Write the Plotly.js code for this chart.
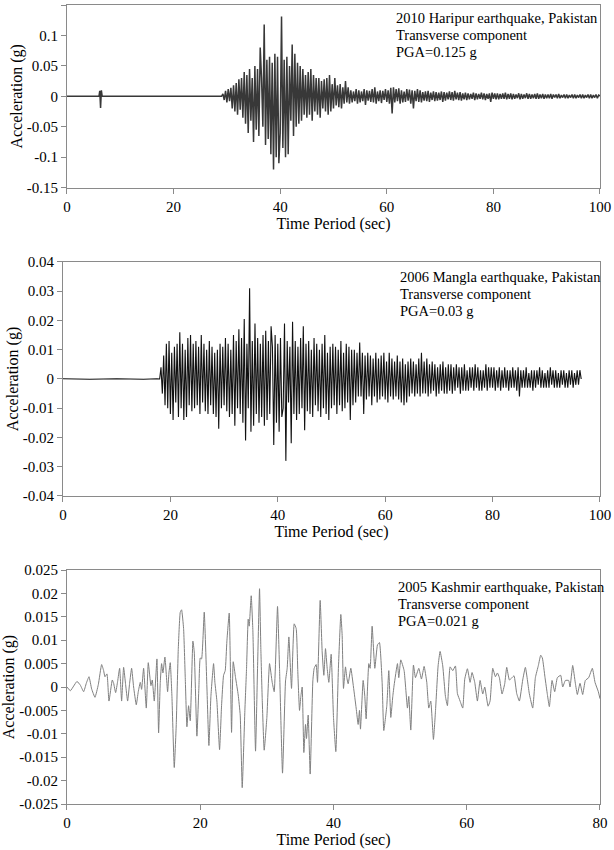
<!DOCTYPE html>
<html>
<head>
<meta charset="utf-8">
<script src="https://cdn.plot.ly/plotly-3.0.1.min.js"></script>
<style>
body { margin: 0; background: #fff; }
#graph { width: 614px; height: 850px; }
</style>
</head>
<body>
<div id="graph"></div>
<script>
// 2010 Haripur: quiet lead-in, then record sampled every 0.25 s from 29 s
var haripurLeadT = [0, 6.0, 6.15, 6.3, 6.45, 6.6, 29];
var haripurLeadA = [0, 0, 0.009, -0.019, 0.01, 0, 0];
var haripurStart = 29;
var haripurStep = 0.25;
var haripurAcc = [
	0, 0.004, -0.006, 0.009, -0.01, 0.012, -0.008, 0.014,
	-0.02, 0.018, -0.025, 0.022, -0.03, 0.028, -0.022, 0.03,
	-0.035, 0.04, -0.045, 0.035, -0.06, 0.045, -0.04, 0.03,
	-0.075, 0.05, -0.055, 0.045, -0.065, 0.08, 0.03, -0.05,
	0.118, -0.08, 0.06, -0.07, 0.065, -0.095, 0.055, -0.12,
	0.07, -0.1, 0.065, -0.11, -0.06, 0.131, -0.085, 0.06,
	-0.1, 0.065, -0.095, 0.05, -0.04, 0.085, -0.065, 0.07,
	-0.05, 0.055, -0.045, 0.05, -0.04, 0.045, -0.03, 0.035,
	-0.035, 0.04, -0.03, 0.045, -0.04, 0.035, -0.025, 0.03,
	-0.03, 0.03, -0.035, 0.025, -0.02, 0.028, -0.025, 0.03,
	-0.03, 0.035, -0.025, 0.02, -0.02, 0.03, -0.015, 0.018,
	-0.018, 0.02, -0.02, 0.015, -0.012, 0.025, -0.01, 0.015,
	-0.012, 0.01, -0.01, 0.008, -0.008, 0.012, -0.012, 0.01,
	-0.01, 0.008, -0.008, 0.012, -0.014, 0.01, -0.007, 0.009,
	-0.009, 0.012, -0.01, 0.015, -0.012, 0.008, -0.008, 0.01,
	-0.011, 0.009, -0.006, 0.012, -0.009, 0.01, -0.012, 0.014,
	-0.028, 0.015, -0.01, 0.012, -0.008, 0.013, -0.012, 0.01,
	-0.01, 0.008, -0.009, 0.012, -0.007, 0.011, -0.012, 0.01,
	-0.02, 0.009, -0.008, 0.012, -0.009, 0.01, -0.01, 0.007,
	-0.007, 0.008, -0.008, 0.009, -0.009, 0.006, -0.006, 0.008,
	-0.008, 0.007, -0.007, 0.006, -0.006, 0.008, -0.009, 0.007,
	-0.007, 0.006, -0.005, 0.008, -0.006, 0.007, -0.007, 0.009,
	-0.005, 0.006, -0.006, 0.007, -0.007, 0.005, -0.005, 0.006,
	-0.006, 0.005, -0.005, 0.004, -0.004, 0.006, -0.006, 0.005,
	-0.005, 0.004, -0.004, 0.006, -0.005, 0.005, -0.006, 0.004,
	-0.004, 0.005, -0.009, 0.006, -0.004, 0.005, -0.005, 0.005,
	-0.005, 0.004, -0.004, 0.005, -0.004, 0.006, -0.005, 0.004,
	-0.004, 0.005, -0.005, 0.004, -0.004, 0.003, -0.003, 0.005,
	-0.005, 0.004, -0.004, 0.003, -0.003, 0.005, -0.004, 0.004,
	-0.004, 0.003, -0.003, 0.004, -0.004, 0.005, -0.004, 0.003,
	-0.003, 0.004, -0.004, 0.003, -0.003, 0.003, -0.003, 0.004,
	-0.004, 0.003, -0.002, 0.003, -0.003, 0.004, -0.003, 0.002,
	-0.002, 0.003, -0.003, 0.003, -0.003, 0.002, -0.002, 0.003,
	-0.003, 0.003, -0.003, 0.002, -0.002, 0.003, -0.003, 0.003,
	-0.003, 0.002, -0.002, 0.003, -0.003, 0.003, -0.003, 0.002,
	-0.002, 0.003, -0.003, 0.002, 0.001
];

// 2006 Mangla: quiet lead-in, then record sampled every 0.25 s from 18 s
var manglaLeadT = [0, 5, 10, 15, 17.5, 18];
var manglaLeadA = [0.0001, -0.0001, 0.0001, -0.0001, 0.0001, 0];
var manglaStart = 18;
var manglaStep = 0.25;
var manglaAcc = [
	0, 0.004, -0.005, 0.008, -0.009, 0.012, -0.01, 0.013,
	-0.012, 0.009, -0.014, 0.011, -0.008, 0.012, -0.013, 0.016,
	-0.01, 0.012, -0.014, 0.01, -0.013, 0.014, -0.009, 0.015,
	-0.011, 0.012, -0.01, 0.013, -0.009, 0.011, -0.012, 0.015,
	-0.008, 0.012, -0.011, 0.01, -0.012, 0.013, -0.009, 0.011,
	-0.012, 0.009, -0.013, 0.01, -0.017, 0.012, -0.01, 0.011,
	-0.009, 0.014, -0.011, 0.012, -0.013, 0.01, -0.012, 0.015,
	-0.016, 0.013, -0.01, 0.017, -0.012, 0.014, -0.015, 0.0205,
	-0.021, 0.012, -0.01, 0.031, -0.018, 0.013, -0.016, 0.019,
	-0.012, 0.014, -0.015, 0.012, -0.013, 0.015, -0.016, 0.0165,
	-0.014, 0.013, -0.012, 0.018, 0.011, -0.0226, 0.015, -0.015,
	0.012, -0.018, 0.014, -0.013, -0.01, 0.019, -0.028, 0.013,
	-0.008, 0.011, -0.022, 0.0196, -0.012, 0.013, -0.014, 0.011,
	-0.012, 0.014, -0.01, 0.018, -0.0175, 0.012, -0.011, 0.013,
	-0.012, 0.01, -0.013, 0.014, -0.009, 0.012, -0.011, 0.01,
	-0.013, 0.012, -0.01, 0.015, -0.012, 0.009, -0.014, 0.011,
	-0.01, 0.012, -0.009, 0.011, -0.012, 0.01, -0.009, 0.013,
	-0.011, 0.009, -0.01, 0.012, -0.008, 0.011, -0.014, 0.01,
	-0.009, 0.01, -0.008, 0.009, -0.006, 0.0125, -0.006, 0.009,
	-0.012, 0.008, -0.007, 0.009, -0.006, 0.008, -0.009, 0.007,
	-0.006, 0.009, -0.008, 0.007, -0.007, 0.008, -0.006, 0.009,
	-0.007, 0.006, -0.008, 0.009, -0.006, 0.007, -0.007, 0.006,
	-0.006, 0.008, -0.007, 0.006, -0.008, 0.007, -0.009, 0.005,
	-0.008, 0.006, -0.006, 0.007, -0.005, 0.006, -0.006, 0.005,
	-0.005, 0.007, -0.006, 0.009, -0.005, 0.006, -0.005, 0.007,
	-0.006, 0.005, -0.005, 0.006, -0.004, 0.005, -0.006, 0.004,
	-0.005, 0.005, -0.004, 0.006, -0.005, 0.004, -0.005, 0.005,
	-0.004, 0.005, -0.005, 0.004, -0.004, 0.005, -0.003, 0.004,
	-0.005, 0.004, -0.004, 0.005, -0.004, 0.003, -0.004, 0.004,
	-0.003, 0.004, -0.004, 0.005, -0.003, 0.004, -0.004, 0.003,
	-0.004, 0.003, -0.003, 0.005, -0.004, 0.004, -0.003, 0.004,
	-0.003, 0.004, -0.004, 0.003, -0.003, 0.004, -0.004, 0.003,
	-0.003, 0.004, -0.003, 0.003, -0.004, 0.003, -0.003, 0.004,
	-0.003, 0.003, -0.004, 0.004, -0.006, 0.003, -0.003, 0.003,
	-0.003, 0.004, -0.003, 0.002, -0.003, 0.003, -0.004, 0.003,
	-0.003, 0.003, -0.002, 0.004, -0.003, 0.003, -0.003, 0.002,
	-0.003, 0.003, -0.003, 0.004, -0.002, 0.003, -0.003, 0.003,
	-0.003, 0.002, -0.003, 0.003, -0.002, 0.003, -0.003, 0.002,
	-0.003, 0.003, -0.002, 0.003, -0.003, 0.002, -0.002, 0.003,
	-0.002, 0.003, 0
];

// 2005 Kashmir: peaks and troughs
var kashmirTime = [
	0, 0.5, 1.0, 1.5, 2.0, 2.5, 2.9, 3.3, 3.7, 4.2, 4.7, 5.2, 5.5, 5.7, 6.0, 6.3,
	6.8, 7.0, 7.3, 7.6, 7.9, 8.2, 8.5, 8.8, 9.1, 9.4, 9.7, 10.0, 10.4, 10.7, 11.0, 11.2,
	11.5, 11.9, 12.2, 12.6, 12.8, 13.1, 13.5, 13.75, 14.0, 14.2, 14.4, 14.7, 15.1, 15.3, 15.5, 15.75,
	16.1, 16.4, 16.7, 17.0, 17.2, 17.5, 17.75, 18.0, 18.25, 18.5, 18.9, 19.1, 19.5, 19.8, 20.0, 20.2,
	20.6, 21.0, 21.3, 21.6, 22.0, 22.2, 22.5, 22.9, 23.2, 23.5, 23.75, 24.0, 24.35, 24.7, 24.95, 25.3,
	25.7, 26.0, 26.3, 26.7, 26.95, 27.2, 27.35, 27.65, 27.9, 28.3, 28.6, 28.9, 29.1, 29.3, 29.6, 30.0,
	30.4, 30.8, 31.1, 31.6, 31.9, 32.35, 32.8, 33.05, 33.3, 33.7, 34.1, 34.4, 34.65, 34.9, 35.1, 35.3,
	35.55, 35.8, 35.95, 36.2, 36.5, 36.9, 37.1, 37.4, 37.6, 38.0, 38.3, 38.55, 38.8, 39.05, 39.3, 39.65,
	40.0, 40.35, 40.75, 41.1, 41.3, 41.5, 41.8, 42.0, 42.2, 42.6, 43.0, 43.4, 43.7, 43.9, 44.05, 44.45,
	44.7, 44.9, 45.3, 45.5, 45.8, 46.2, 46.6, 46.9, 47.3, 47.55, 48.0, 48.3, 48.6, 48.9, 49.1, 49.6,
	49.8, 50.1, 50.6, 51.1, 51.3, 51.6, 52.0, 52.3, 52.8, 53.2, 53.6, 54.0, 54.3, 54.6, 55.0, 55.3,
	55.7, 56.0, 56.4, 56.8, 57.1, 57.5, 57.9, 58.3, 58.6, 59.0, 59.4, 59.7, 60.1, 60.5, 60.8, 61.2,
	61.6, 62.0, 62.4, 62.7, 63.2, 63.5, 63.9, 64.3, 64.6, 64.9, 65.3, 65.7, 66.0, 66.4, 66.8, 67.1,
	67.5, 67.9, 68.4, 68.8, 69.4, 69.9, 70.3, 70.75, 71.1, 71.35, 71.75, 72.1, 72.4, 72.8, 73.2, 73.6,
	74.1, 74.4, 74.8, 75.3, 75.5, 75.9, 76.3, 76.6, 77.0, 77.4, 77.8, 78.3, 78.85, 79.25, 79.75, 80.0
];
var kashmirAcc = [
	0, -0.0008, 0.0002, 0.0012, 0.0004, -0.001, 0.0008, 0.0022, -0.0004, -0.0022, 0.0005, 0.0048, 0.0035, 0.0022, 0.0028, -0.003,
	0.0015, 0.0008, -0.0012, 0.0012, 0.004, -0.003, 0.0042, 0.0005, -0.003, 0.0008, 0.004, 0, -0.0038, -0.001, 0.001, -0.0005,
	0.004, -0.0045, 0.0052, 0.0003, 0.0015, -0.003, 0.006, -0.0098, 0.001, 0.005, 0.003, 0.0064, -0.001, 0.003, 0.0052, -0.002,
	-0.0172, -0.008, 0.008, 0.016, 0.0165, 0.0125, 0.002, -0.0085, -0.004, -0.0072, 0.0098, 0.0075, -0.0105, 0, 0.0062, 0.006,
	0.016, 0, -0.0125, -0.002, 0.005, 0.001, -0.003, -0.0134, -0.004, 0.0025, 0.0035, 0.0098, 0.0158, -0.0097, 0.0054, 0.002,
	-0.0017, -0.006, -0.0215, -0.005, 0.004, 0.0145, 0.013, 0.0195, 0.012, -0.0137, 0.004, 0.021, 0.008, -0.0025, -0.0135, -0.0065,
	0.005, 0.001, -0.001, 0.0172, 0.004, -0.0184, 0.0013, 0.004, 0.0107, -0.0003, 0.0135, 0.0125, 0.003, -0.005, -0.002, 0,
	-0.014, -0.008, -0.011, -0.006, -0.0186, 0.0013, 0.004, 0.0048, 0.001, 0.0185, 0.0075, 0.0025, 0.0082, 0.004, 0.001, 0.007,
	-0.0065, -0.0138, 0.0045, 0.0155, 0.011, -0.0003, 0.0043, 0.002, 0.0007, 0.004, 0, -0.0045, -0.008, -0.005, -0.009, 0.0014,
	-0.002, -0.0068, 0.005, 0.004, 0.013, 0.004, 0.009, 0.0095, 0.001, -0.0093, -0.004, 0.0035, -0.0065, -0.002, 0.0004, 0.005,
	0.002, 0.0058, 0.0035, -0.0045, -0.002, -0.0092, 0.0047, 0.002, 0.004, 0.0017, 0.0044, 0.001, -0.0045, -0.003, -0.0112, -0.0053,
	0.0045, 0.0076, 0.0045, -0.002, -0.004, 0.0043, 0.0035, 0.0045, -0.0014, -0.003, -0.0045, 0.0017, 0.0039, 0.001, 0.0031, 0.001,
	-0.003, 0.0014, -0.0015, 0, -0.0041, -0.003, 0.004, 0.0022, 0.003, 0.002, -0.0015, 0.0007, 0.0042, 0.0015, 0.002, 0.0024,
	-0.0014, -0.003, 0.0015, 0.0042, -0.0015, -0.0045, 0.002, 0.0046, 0.0068, 0.0062, 0.002, -0.0016, -0.0042, 0.0014, -0.001, 0.002,
	0.0025, 0, 0.0014, 0.0014, 0, 0.0046, 0.0008, -0.0016, 0.0008, -0.0016, 0.0014, 0.002, 0.004, 0.001, -0.001, -0.0025
];

var haripurNote = ["2010 Haripur earthquake, Pakistan", "Transverse component", "PGA=0.125 g"];
var manglaNote = ["2006 Mangla earthquake, Pakistan", "Transverse component", "PGA=0.03 g"];
var kashmirNote = ["2005 Kashmir earthquake, Pakistan", "Transverse component", "PGA=0.021 g"];

var yTicks1 = [-0.15, -0.1, -0.05, 0, 0.05, 0.1, 0.15];
var yLabels1 = ["-0.15", "-0.1", "-0.05", "0", "0.05", "0.1", "0.15"];
var yTicks2 = [-0.04, -0.03, -0.02, -0.01, 0, 0.01, 0.02, 0.03, 0.04];
var yLabels2 = ["-0.04", "-0.03", "-0.02", "-0.01", "0", "0.01", "0.02", "0.03", "0.04"];
var yTicks3 = [-0.025, -0.02, -0.015, -0.01, -0.005, 0, 0.005, 0.01, 0.015, 0.02, 0.025];
var yLabels3 = ["-0.025", "-0.02", "-0.015", "-0.01", "-0.005", "0", "0.005", "0.01", "0.015", "0.02", "0.025"];
var xTicks100 = [0, 20, 40, 60, 80, 100];
var xTicks80 = [0, 20, 40, 60, 80];

var FONT = "Liberation Serif";
var FRAME = "#8a8a8a";

function stepSeries(leadT, leadA, start, step, acc)
{
	var x = leadT.slice(0, -1), y = leadA.slice(0, -1);
	for (var i = 0; i < acc.length; i++)
	{
		x.push(Math.round((start + i * step) * 100) / 100);
		y.push(acc[i]);
	}
	return {x: x, y: y};
}

function xAxis(domain, range, vals, anchor)
{
	return {
		domain: domain, range: range, anchor: anchor,
		tickvals: vals, ticks: "outside", ticklen: 5, tickcolor: FRAME,
		showline: true, linecolor: FRAME, linewidth: 1, mirror: true,
		showgrid: false, zeroline: false, automargin: false,
		tickfont: {family: FONT, size: 15, color: "#000"},
		title: {text: "Time Period (sec)", standoff: 3, font: {family: FONT, size: 16, color: "#000"}}
	};
}

function yAxis(domain, range, vals, labels, anchor, standoff)
{
	return {
		domain: domain, range: range, anchor: anchor,
		tickvals: vals, ticktext: labels, ticks: "outside", ticklen: 5, tickcolor: FRAME,
		showline: true, linecolor: FRAME, linewidth: 1, mirror: true,
		showgrid: false, zeroline: false, automargin: false,
		tickfont: {family: FONT, size: 15, color: "#000"},
		title: {text: "Acceleration (g)", standoff: standoff, font: {family: FONT, size: 16, color: "#000"}}
	};
}

// one annotation per text line, lines 17 px apart
function notes(lines, xPx, firstYPx)
{
	return lines.map(function (t, i)
	{
		return {
			text: t, xref: "paper", yref: "paper",
			x: xPx / 614, y: 1 - (firstYPx + i * 16.8) / 850,
			xanchor: "left", yanchor: "middle", align: "left", showarrow: false,
			font: {family: FONT, size: 14.5, color: "#000"}
		};
	});
}

var haripur = stepSeries(haripurLeadT, haripurLeadA, haripurStart, haripurStep, haripurAcc);
var mangla = stepSeries(manglaLeadT, manglaLeadA, manglaStart, manglaStep, manglaAcc);

var data = [
	{type: "scatter", mode: "lines", x: haripur.x, y: haripur.y, xaxis: "x", yaxis: "y",
		line: {color: "#383838", width: 1.5}},
	{type: "scatter", mode: "lines", x: mangla.x, y: mangla.y, xaxis: "x2", yaxis: "y2",
		line: {color: "#111111", width: 1.1}},
	{type: "scatter", mode: "lines", x: kashmirTime, y: kashmirAcc, xaxis: "x3", yaxis: "y3",
		line: {color: "#808080", width: 1, shape: "spline", smoothing: 0.4}}
];

var layout =
{
	width: 614, height: 850,
	margin: {l: 0, r: 0, t: 0, b: 0},
	paper_bgcolor: "#fff", plot_bgcolor: "#fff",
	showlegend: false,
	font: {family: FONT, color: "#000"},
	xaxis: xAxis([0.1091, 0.9772], [0, 100], xTicks100, "y"),
	yaxis: yAxis([0.7792, 0.9941], [-0.15, 0.15], yTicks1, yLabels1, "x", 0),
	xaxis2: xAxis([0.1026, 0.9772], [0, 100], xTicks100, "y2"),
	yaxis2: yAxis([0.4165, 0.6918], [-0.04, 0.04], yTicks2, yLabels2, "x2", 0),
	xaxis3: xAxis([0.1091, 0.9772], [0, 80], xTicks80, "y3"),
	yaxis3: yAxis([0.0541, 0.3294], [-0.025, 0.025], yTicks3, yLabels3, "x3", 0),
	annotations: notes(haripurNote, 394, 18)
		.concat(notes(manglaNote, 398, 277))
		.concat(notes(kashmirNote, 396, 587))
};

Plotly.newPlot("graph", data, layout, {displayModeBar: false, staticPlot: true});
</script>
</body>
</html>
